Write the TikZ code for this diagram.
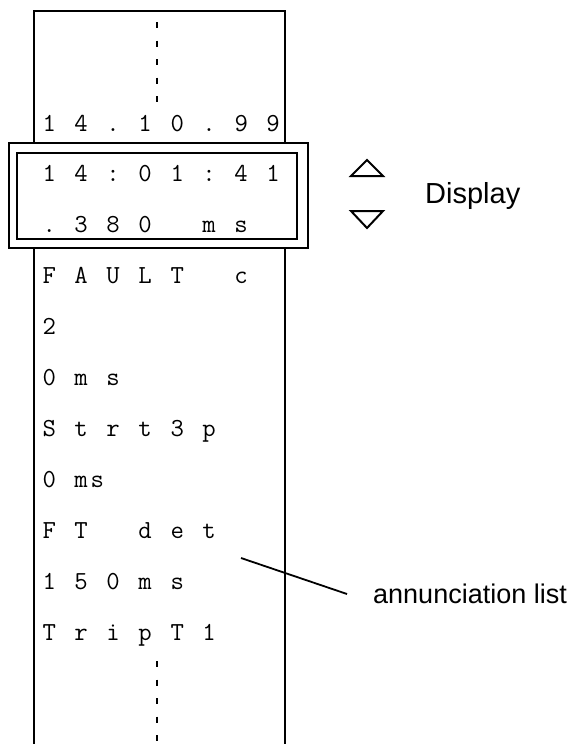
\documentclass[tikz,border=0pt]{standalone}
\usepackage{fontspec}
\setmainfont{Liberation Sans}
\makeatletter
\newcommand\cellrow[1]{\@tfor\cc:=#1\do{\makebox[16pt]{\cc}}}
\makeatother
\tikzset{
  boxline/.style={line width=2pt},
  dots/.style={line width=2.4pt, dash pattern=on 6pt off 12.5pt},
  row/.style={anchor=base west, inner sep=0pt, font=\ttfamily\fontsize{26}{26}\selectfont},
  label/.style={anchor=base west, inner sep=0pt},
  tri/.style={line width=2pt, line join=miter},
  leader/.style={line width=1.8pt}
}
\begin{document}
\begin{tikzpicture}[x=1pt,y=-1pt]
\useasboundingbox (0,0) rectangle (570,744);
\clip (0,0) rectangle (570,744);
% tall list box (open at the bottom)
\draw[boxline] (34,760) -- (34,11) -- (285,11) -- (285,760);
% dotted continuation marks
\coordinate (t1) at (157,22); \coordinate (t2) at (157,104);
\draw[dots] (t1) -- (t2);
\coordinate (b1) at (157,661); \coordinate (b2) at (157,744);
\draw[dots] (b1) -- (b2);
% display frame
\draw[boxline, fill=white] (9,143) rectangle (308,248);
\draw[boxline] (17,153) rectangle (297,239);
% rows
\foreach \txt [count=\i from 0] in {
  1~4~.~1~0~.~9~9,
  1~4~:~0~1~:~4~1,
  .~3~8~0~~~m~s,
  F~A~U~L~T~~~c,
  2,
  0~m~s,
  S~t~r~t~3~p,
  0~ms,
  F~T~~~d~e~t,
  1~5~0~m~s,
  T~r~i~p~T~1}
  \node[row] (r\i) at (41,131+50.9*\i) {\expandafter\cellrow\expandafter{\txt}};
% arrow keys
\draw[tri] (351,176) -- (367,160) -- (383,176) -- cycle;
\draw[tri] (351,211) -- (367,228) -- (383,211) -- cycle;
\node[label, font=\fontsize{29}{29}\selectfont] (disp) at (425,203) {Display};
% annunciation list label
\node[label, font=\fontsize{27}{27}\selectfont] (ann) at (373,603) {annunciation list};
\coordinate (l1) at (241,558);
\coordinate (l2) at (347,594);
\draw[leader] (l1) -- (l2);
\end{tikzpicture}
\end{document}
